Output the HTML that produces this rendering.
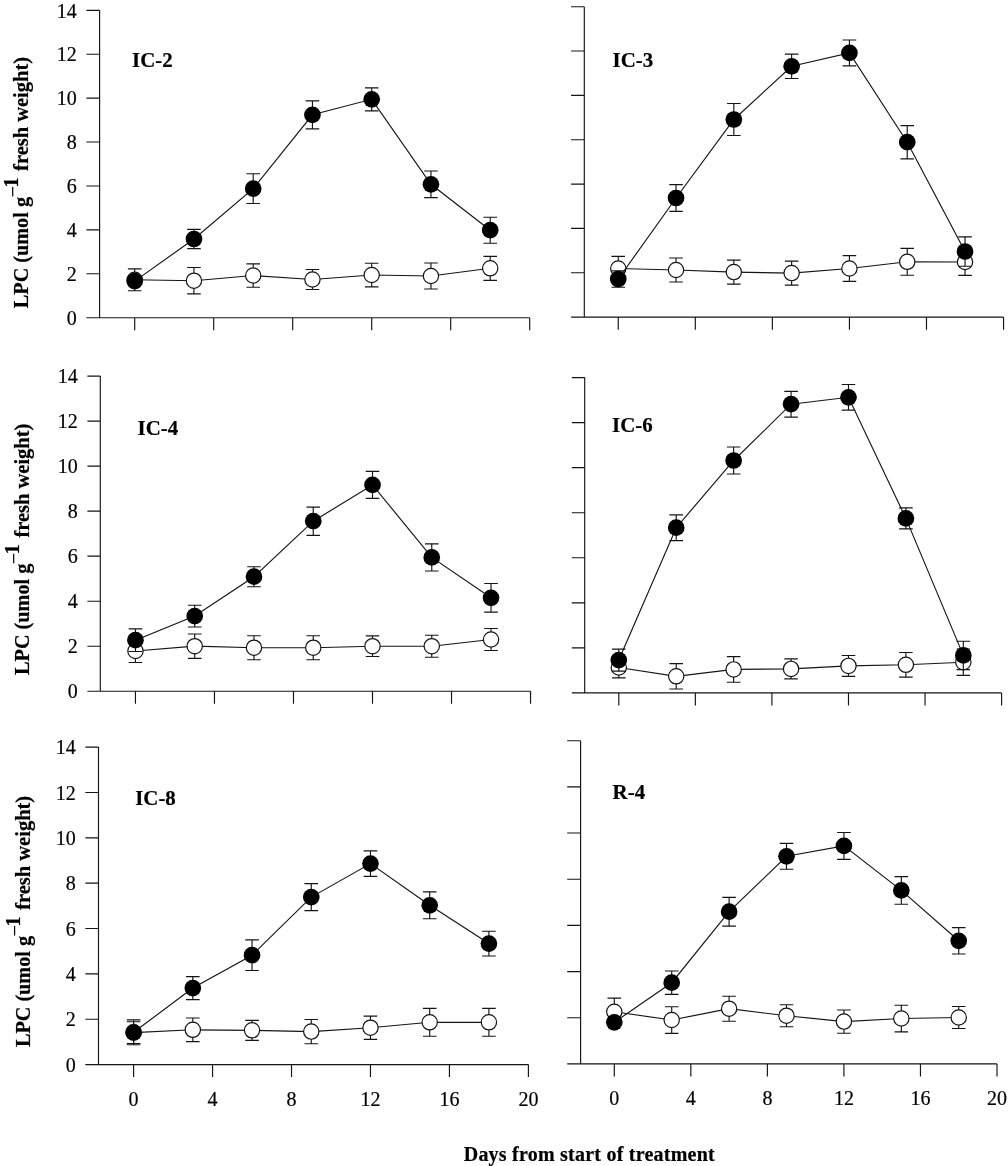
<!DOCTYPE html>
<html><head><meta charset="utf-8"><title>LPC chart</title>
<style>
html,body{margin:0;padding:0;background:#fff;}
body{width:1008px;height:1166px;overflow:hidden;font-family:"Liberation Serif",serif;}
svg{display:block;will-change:transform;}
</style></head><body>
<svg width="1008" height="1166" viewBox="0 0 1008 1166">
<rect width="1008" height="1166" fill="#fff"/>
<g fill="none" stroke="#141414" stroke-width="1.15">
<path d="M99.6 10.3V317.7M86.4 317.7H529.7M86.4 273.79H99.6M86.4 229.87H99.6M86.4 185.96H99.6M86.4 142.04H99.6M86.4 98.13H99.6M86.4 54.21H99.6M86.4 10.3H99.6M134.7 317.7V330.3M213.7 317.7V330.3M292.7 317.7V330.3M371.7 317.7V330.3M450.7 317.7V330.3M529.7 317.7V330.3"/>
<path d="M584.3 6.7V317.1M571.1 317.1H1003.4M571.1 272.76H584.3M571.1 228.41H584.3M571.1 184.07H584.3M571.1 139.73H584.3M571.1 95.39H584.3M571.1 51.04H584.3M571.1 6.7H584.3M618.25 317.1V329.8M695.31 317.1V329.8M772.37 317.1V329.8M849.43 317.1V329.8M926.49 317.1V329.8M1003.55 317.1V329.8"/>
<path d="M100.3 376.1V691.25M87.4 691.25H530.6M87.4 646.23H100.3M87.4 601.21H100.3M87.4 556.19H100.3M87.4 511.16H100.3M87.4 466.14H100.3M87.4 421.12H100.3M87.4 376.1H100.3M135.45 691.25V703.75M214.47 691.25V703.75M293.49 691.25V703.75M372.51 691.25V703.75M451.53 691.25V703.75M530.55 691.25V703.75"/>
<path d="M584.7 377.6V692.9M571.8 692.9H1001.6M571.8 647.86H584.7M571.8 602.81H584.7M571.8 557.77H584.7M571.8 512.73H584.7M571.8 467.69H584.7M571.8 422.64H584.7M571.8 377.6H584.7M618.8 692.9V705.4M695.36 692.9V705.4M771.92 692.9V705.4M848.48 692.9V705.4M925.04 692.9V705.4M1001.6 692.9V705.4"/>
<path d="M98.5 747.1V1064.6M85.4 1064.6H528.4M85.4 1019.24H98.5M85.4 973.89H98.5M85.4 928.53H98.5M85.4 883.17H98.5M85.4 837.81H98.5M85.4 792.46H98.5M85.4 747.1H98.5M133.6 1064.6V1077.1M212.56 1064.6V1077.1M291.52 1064.6V1077.1M370.48 1064.6V1077.1M449.44 1064.6V1077.1M528.4 1064.6V1077.1"/>
<path d="M580.6 740.7V1063.9M567.2 1063.9H997.1M567.2 1017.73H580.6M567.2 971.56H580.6M567.2 925.39H580.6M567.2 879.21H580.6M567.2 833.04H580.6M567.2 786.87H580.6M567.2 740.7H580.6M614.3 1063.9V1076.4M690.84 1063.9V1076.4M767.38 1063.9V1076.4M843.92 1063.9V1076.4M920.46 1063.9V1076.4M997 1063.9V1076.4"/>
</g>
<g stroke="#141414" stroke-width="1.15" fill="none"><path d="M134.7 279.8L193.95 280.7L253.2 275.5L312.45 279.5L371.7 275L430.95 276L490.2 268.3"/><path d="M134.7 268.9V290.7M127.9 268.9H141.5M127.9 290.7H141.5M193.95 267.5V293.9M187.15 267.5H200.75M187.15 293.9H200.75M253.2 263.8V287.2M246.4 263.8H260M246.4 287.2H260M312.45 269.5V289.5M305.65 269.5H319.25M305.65 289.5H319.25M371.7 263.2V286.8M364.9 263.2H378.5M364.9 286.8H378.5M430.95 263V289M424.15 263H437.75M424.15 289H437.75M490.2 256.3V280.3M483.4 256.3H497M483.4 280.3H497"/></g>
<g fill="#fff" stroke="#141414" stroke-width="1.2">
<circle cx="134.7" cy="279.8" r="7.65"/>
<circle cx="193.95" cy="280.7" r="7.65"/>
<circle cx="253.2" cy="275.5" r="7.65"/>
<circle cx="312.45" cy="279.5" r="7.65"/>
<circle cx="371.7" cy="275" r="7.65"/>
<circle cx="430.95" cy="276" r="7.65"/>
<circle cx="490.2" cy="268.3" r="7.65"/>
</g>
<g stroke="#141414" stroke-width="1.15" fill="none"><path d="M134.7 281.1L193.95 239L253.2 188.6L312.45 114.8L371.7 99.3L430.95 184.3L490.2 230.2"/><path d="M193.95 229.4V248.6M187.15 229.4H200.75M187.15 248.6H200.75M253.2 173.7V203.5M246.4 173.7H260M246.4 203.5H260M312.45 100.8V128.8M305.65 100.8H319.25M305.65 128.8H319.25M371.7 87.8V110.8M364.9 87.8H378.5M364.9 110.8H378.5M430.95 171V197.6M424.15 171H437.75M424.15 197.6H437.75M490.2 217.2V243.2M483.4 217.2H497M483.4 243.2H497"/></g>
<g fill="#000">
<circle cx="134.7" cy="281.1" r="8.35"/>
<circle cx="193.95" cy="239" r="8.35"/>
<circle cx="253.2" cy="188.6" r="8.35"/>
<circle cx="312.45" cy="114.8" r="8.35"/>
<circle cx="371.7" cy="99.3" r="8.35"/>
<circle cx="430.95" cy="184.3" r="8.35"/>
<circle cx="490.2" cy="230.2" r="8.35"/>
</g>
<g stroke="#141414" stroke-width="1.15" fill="none"><path d="M618.25 268.5L676.04 270L733.84 272.1L791.63 273.1L849.43 268.5L907.23 261.8L965.02 262"/><path d="M618.25 256.3V280.7M611.45 256.3H625.05M611.45 280.7H625.05M676.04 258V282M669.25 258H682.84M669.25 282H682.84M733.84 260.1V284.1M727.04 260.1H740.64M727.04 284.1H740.64M791.63 261.1V285.1M784.84 261.1H798.43M784.84 285.1H798.43M849.43 255.6V281.4M842.63 255.6H856.23M842.63 281.4H856.23M907.23 248.4V275.2M900.43 248.4H914.02M900.43 275.2H914.02M965.02 248.6V275.4M958.22 248.6H971.82M958.22 275.4H971.82"/></g>
<g fill="#fff" stroke="#141414" stroke-width="1.2">
<circle cx="618.25" cy="268.5" r="7.65"/>
<circle cx="676.04" cy="270" r="7.65"/>
<circle cx="733.84" cy="272.1" r="7.65"/>
<circle cx="791.63" cy="273.1" r="7.65"/>
<circle cx="849.43" cy="268.5" r="7.65"/>
<circle cx="907.23" cy="261.8" r="7.65"/>
<circle cx="965.02" cy="262" r="7.65"/>
</g>
<g stroke="#141414" stroke-width="1.15" fill="none"><path d="M618.25 279L676.04 198L733.84 119.5L791.63 66.3L849.43 52.9L907.23 142.2L965.02 251.5"/><path d="M618.25 270.8V287.2M611.45 270.8H625.05M611.45 287.2H625.05M676.04 184.6V211.4M669.25 184.6H682.84M669.25 211.4H682.84M733.84 103.5V135.5M727.04 103.5H740.64M727.04 135.5H740.64M791.63 54.1V78.5M784.84 54.1H798.43M784.84 78.5H798.43M849.43 40V65.8M842.63 40H856.23M842.63 65.8H856.23M907.23 125.6V158.8M900.43 125.6H914.02M900.43 158.8H914.02M965.02 236.8V266.2M958.22 236.8H971.82M958.22 266.2H971.82"/></g>
<g fill="#000">
<circle cx="618.25" cy="279" r="8.35"/>
<circle cx="676.04" cy="198" r="8.35"/>
<circle cx="733.84" cy="119.5" r="8.35"/>
<circle cx="791.63" cy="66.3" r="8.35"/>
<circle cx="849.43" cy="52.9" r="8.35"/>
<circle cx="907.23" cy="142.2" r="8.35"/>
<circle cx="965.02" cy="251.5" r="8.35"/>
</g>
<g stroke="#141414" stroke-width="1.15" fill="none"><path d="M135.45 651L194.71 646.2L253.98 647.7L313.25 647.7L372.51 646.2L431.77 646.2L491.04 639.5"/><path d="M135.45 639.5V662.5M128.65 639.5H142.25M128.65 662.5H142.25M194.71 634V658.4M187.91 634H201.51M187.91 658.4H201.51M253.98 635.7V659.7M247.18 635.7H260.78M247.18 659.7H260.78M313.25 635.7V659.7M306.44 635.7H320.05M306.44 659.7H320.05M372.51 635.9V656.5M365.71 635.9H379.31M365.71 656.5H379.31M431.77 635.2V657.2M424.97 635.2H438.57M424.97 657.2H438.57M491.04 628.5V650.5M484.24 628.5H497.84M484.24 650.5H497.84"/></g>
<g fill="#fff" stroke="#141414" stroke-width="1.2">
<circle cx="135.45" cy="651" r="7.65"/>
<circle cx="194.71" cy="646.2" r="7.65"/>
<circle cx="253.98" cy="647.7" r="7.65"/>
<circle cx="313.25" cy="647.7" r="7.65"/>
<circle cx="372.51" cy="646.2" r="7.65"/>
<circle cx="431.77" cy="646.2" r="7.65"/>
<circle cx="491.04" cy="639.5" r="7.65"/>
</g>
<g stroke="#141414" stroke-width="1.15" fill="none"><path d="M135.45 640.2L194.71 616.1L253.98 576.7L313.25 521.2L372.51 484.9L431.77 557.4L491.04 597.8"/><path d="M135.45 628.9V651.5M128.65 628.9H142.25M128.65 651.5H142.25M194.71 605.2V627M187.91 605.2H201.51M187.91 627H201.51M253.98 566.7V586.7M247.18 566.7H260.78M247.18 586.7H260.78M313.25 507.1V535.3M306.44 507.1H320.05M306.44 535.3H320.05M372.51 471.4V498.4M365.71 471.4H379.31M365.71 498.4H379.31M431.77 543.8V571M424.97 543.8H438.57M424.97 571H438.57M491.04 583.5V612.1M484.24 583.5H497.84M484.24 612.1H497.84"/></g>
<g fill="#000">
<circle cx="135.45" cy="640.2" r="8.35"/>
<circle cx="194.71" cy="616.1" r="8.35"/>
<circle cx="253.98" cy="576.7" r="8.35"/>
<circle cx="313.25" cy="521.2" r="8.35"/>
<circle cx="372.51" cy="484.9" r="8.35"/>
<circle cx="431.77" cy="557.4" r="8.35"/>
<circle cx="491.04" cy="597.8" r="8.35"/>
</g>
<g stroke="#141414" stroke-width="1.15" fill="none"><path d="M618.8 667.5L676.22 676.3L733.64 669.4L791.06 668.9L848.48 665.9L905.9 664.8L963.32 662.2"/><path d="M618.8 657.2V677.8M612 657.2H625.6M612 677.8H625.6M676.22 663.6V689M669.42 663.6H683.02M669.42 689H683.02M733.64 656.6V682.2M726.84 656.6H740.44M726.84 682.2H740.44M791.06 658.9V678.9M784.26 658.9H797.86M784.26 678.9H797.86M848.48 655.5V676.3M841.68 655.5H855.28M841.68 676.3H855.28M905.9 652.5V677.1M899.1 652.5H912.7M899.1 677.1H912.7M963.32 649V675.4M956.52 649H970.12M956.52 675.4H970.12"/></g>
<g fill="#fff" stroke="#141414" stroke-width="1.2">
<circle cx="618.8" cy="667.5" r="7.65"/>
<circle cx="676.22" cy="676.3" r="7.65"/>
<circle cx="733.64" cy="669.4" r="7.65"/>
<circle cx="791.06" cy="668.9" r="7.65"/>
<circle cx="848.48" cy="665.9" r="7.65"/>
<circle cx="905.9" cy="664.8" r="7.65"/>
<circle cx="963.32" cy="662.2" r="7.65"/>
</g>
<g stroke="#141414" stroke-width="1.15" fill="none"><path d="M618.8 660.1L676.22 527.7L733.64 460.5L791.06 404.2L848.48 397.3L905.9 518.4L963.32 655.4"/><path d="M618.8 649.1V671.1M612 649.1H625.6M612 671.1H625.6M676.22 514.8V540.6M669.42 514.8H683.02M669.42 540.6H683.02M733.64 447V474M726.84 447H740.44M726.84 474H740.44M791.06 391.3V417.1M784.26 391.3H797.86M784.26 417.1H797.86M848.48 384.5V410.1M841.68 384.5H855.28M841.68 410.1H855.28M905.9 507.9V528.9M899.1 507.9H912.7M899.1 528.9H912.7M963.32 641.2V669.6M956.52 641.2H970.12M956.52 669.6H970.12"/></g>
<g fill="#000">
<circle cx="618.8" cy="660.1" r="8.35"/>
<circle cx="676.22" cy="527.7" r="8.35"/>
<circle cx="733.64" cy="460.5" r="8.35"/>
<circle cx="791.06" cy="404.2" r="8.35"/>
<circle cx="848.48" cy="397.3" r="8.35"/>
<circle cx="905.9" cy="518.4" r="8.35"/>
<circle cx="963.32" cy="655.4" r="8.35"/>
</g>
<g stroke="#141414" stroke-width="1.15" fill="none"><path d="M133.6 1032.6L192.82 1029.8L252.04 1030.3L311.26 1031.6L370.48 1027.7L429.7 1022.3L488.92 1022.3"/><path d="M133.6 1021.7V1043.5M126.8 1021.7H140.4M126.8 1043.5H140.4M192.82 1018V1041.6M186.02 1018H199.62M186.02 1041.6H199.62M252.04 1020.3V1040.3M245.24 1020.3H258.84M245.24 1040.3H258.84M311.26 1019.5V1043.7M304.46 1019.5H318.06M304.46 1043.7H318.06M370.48 1016.1V1039.3M363.68 1016.1H377.28M363.68 1039.3H377.28M429.7 1008.4V1036.2M422.9 1008.4H436.5M422.9 1036.2H436.5M488.92 1008.4V1036.2M482.12 1008.4H495.72M482.12 1036.2H495.72"/></g>
<g fill="#fff" stroke="#141414" stroke-width="1.2">
<circle cx="133.6" cy="1032.6" r="7.65"/>
<circle cx="192.82" cy="1029.8" r="7.65"/>
<circle cx="252.04" cy="1030.3" r="7.65"/>
<circle cx="311.26" cy="1031.6" r="7.65"/>
<circle cx="370.48" cy="1027.7" r="7.65"/>
<circle cx="429.7" cy="1022.3" r="7.65"/>
<circle cx="488.92" cy="1022.3" r="7.65"/>
</g>
<g stroke="#141414" stroke-width="1.15" fill="none"><path d="M133.6 1032.3L192.82 988.1L252.04 955.2L311.26 897.1L370.48 863.6L429.7 905.3L488.92 943.6"/><path d="M133.6 1019.9V1044.7M126.8 1019.9H140.4M126.8 1044.7H140.4M192.82 976.6V999.6M186.02 976.6H199.62M186.02 999.6H199.62M252.04 939.9V970.5M245.24 939.9H258.84M245.24 970.5H258.84M311.26 883.6V910.6M304.46 883.6H318.06M304.46 910.6H318.06M370.48 850.9V876.3M363.68 850.9H377.28M363.68 876.3H377.28M429.7 891.9V918.7M422.9 891.9H436.5M422.9 918.7H436.5M488.92 931.2V956M482.12 931.2H495.72M482.12 956H495.72"/></g>
<g fill="#000">
<circle cx="133.6" cy="1032.3" r="8.35"/>
<circle cx="192.82" cy="988.1" r="8.35"/>
<circle cx="252.04" cy="955.2" r="8.35"/>
<circle cx="311.26" cy="897.1" r="8.35"/>
<circle cx="370.48" cy="863.6" r="8.35"/>
<circle cx="429.7" cy="905.3" r="8.35"/>
<circle cx="488.92" cy="943.6" r="8.35"/>
</g>
<g stroke="#141414" stroke-width="1.15" fill="none"><path d="M614.3 1011.8L671.7 1020L729.11 1008.7L786.51 1015.7L843.92 1021.6L901.33 1018.5L958.73 1017.5"/><path d="M614.3 998.1V1025.5M607.5 998.1H621.1M607.5 1025.5H621.1M671.7 1006.7V1033.3M664.9 1006.7H678.5M664.9 1033.3H678.5M729.11 996.2V1021.2M722.31 996.2H735.91M722.31 1021.2H735.91M786.51 1004.7V1026.7M779.72 1004.7H793.31M779.72 1026.7H793.31M843.92 1010V1033.2M837.12 1010H850.72M837.12 1033.2H850.72M901.33 1005.2V1031.8M894.53 1005.2H908.12M894.53 1031.8H908.12M958.73 1006.5V1028.5M951.93 1006.5H965.53M951.93 1028.5H965.53"/></g>
<g fill="#fff" stroke="#141414" stroke-width="1.2">
<circle cx="614.3" cy="1011.8" r="7.65"/>
<circle cx="671.7" cy="1020" r="7.65"/>
<circle cx="729.11" cy="1008.7" r="7.65"/>
<circle cx="786.51" cy="1015.7" r="7.65"/>
<circle cx="843.92" cy="1021.6" r="7.65"/>
<circle cx="901.33" cy="1018.5" r="7.65"/>
<circle cx="958.73" cy="1017.5" r="7.65"/>
</g>
<g stroke="#141414" stroke-width="1.15" fill="none"><path d="M614.3 1022.3L671.7 982.7L729.11 911.7L786.51 856.3L843.92 845.9L901.33 890.4L958.73 940.8"/><path d="M671.7 971V994.4M664.9 971H678.5M664.9 994.4H678.5M729.11 897.3V926.1M722.31 897.3H735.91M722.31 926.1H735.91M786.51 843.4V869.2M779.72 843.4H793.31M779.72 869.2H793.31M843.92 832.5V859.3M837.12 832.5H850.72M837.12 859.3H850.72M901.33 876.6V904.2M894.53 876.6H908.12M894.53 904.2H908.12M958.73 927.6V954M951.93 927.6H965.53M951.93 954H965.53"/></g>
<g fill="#000">
<circle cx="614.3" cy="1022.3" r="8.35"/>
<circle cx="671.7" cy="982.7" r="8.35"/>
<circle cx="729.11" cy="911.7" r="8.35"/>
<circle cx="786.51" cy="856.3" r="8.35"/>
<circle cx="843.92" cy="845.9" r="8.35"/>
<circle cx="901.33" cy="890.4" r="8.35"/>
<circle cx="958.73" cy="940.8" r="8.35"/>
</g>
<g font-family="'Liberation Serif', serif" font-size="20" fill="#000" stroke="#000" stroke-width="0.2">
<text x="76.7" y="324.9" text-anchor="end">0</text>
<text x="76.7" y="280.99" text-anchor="end">2</text>
<text x="76.7" y="237.07" text-anchor="end">4</text>
<text x="76.7" y="193.16" text-anchor="end">6</text>
<text x="76.7" y="149.24" text-anchor="end">8</text>
<text x="76.7" y="105.33" text-anchor="end">10</text>
<text x="76.7" y="61.41" text-anchor="end">12</text>
<text x="76.7" y="17.5" text-anchor="end">14</text>
<text transform="translate(132 66.7) scale(1.045 1)" font-weight="bold">IC-2</text>
<text transform="translate(612.6 67.4) scale(1.045 1)" font-weight="bold">IC-3</text>
<text x="77.7" y="698.45" text-anchor="end">0</text>
<text x="77.7" y="653.43" text-anchor="end">2</text>
<text x="77.7" y="608.41" text-anchor="end">4</text>
<text x="77.7" y="563.39" text-anchor="end">6</text>
<text x="77.7" y="518.36" text-anchor="end">8</text>
<text x="77.7" y="473.34" text-anchor="end">10</text>
<text x="77.7" y="428.32" text-anchor="end">12</text>
<text x="77.7" y="383.3" text-anchor="end">14</text>
<text transform="translate(137.6 434.7) scale(1.045 1)" font-weight="bold">IC-4</text>
<text transform="translate(612.1 432.2) scale(1.045 1)" font-weight="bold">IC-6</text>
<text x="75.7" y="1071.8" text-anchor="end">0</text>
<text x="75.7" y="1026.44" text-anchor="end">2</text>
<text x="75.7" y="981.09" text-anchor="end">4</text>
<text x="75.7" y="935.73" text-anchor="end">6</text>
<text x="75.7" y="890.37" text-anchor="end">8</text>
<text x="75.7" y="845.01" text-anchor="end">10</text>
<text x="75.7" y="799.66" text-anchor="end">12</text>
<text x="75.7" y="754.3" text-anchor="end">14</text>
<text x="133.6" y="1105.8" text-anchor="middle">0</text>
<text x="212.56" y="1105.8" text-anchor="middle">4</text>
<text x="291.52" y="1105.8" text-anchor="middle">8</text>
<text x="370.48" y="1105.8" text-anchor="middle">12</text>
<text x="449.44" y="1105.8" text-anchor="middle">16</text>
<text x="528.4" y="1105.8" text-anchor="middle">20</text>
<text transform="translate(135.2 805) scale(1.045 1)" font-weight="bold">IC-8</text>
<text x="614.3" y="1105.1" text-anchor="middle">0</text>
<text x="690.84" y="1105.1" text-anchor="middle">4</text>
<text x="767.38" y="1105.1" text-anchor="middle">8</text>
<text x="843.92" y="1105.1" text-anchor="middle">12</text>
<text x="920.46" y="1105.1" text-anchor="middle">16</text>
<text x="997" y="1105.1" text-anchor="middle">20</text>
<text transform="translate(612.6 799.4) scale(1.045 1)" font-weight="bold">R-4</text>
<g transform="translate(28.1 308.2) rotate(-90)" font-weight="bold">
<text x="0" y="0" textLength="111.2" lengthAdjust="spacingAndGlyphs">LPC (umol g</text>
<path d="M111.6 -15.4H121.2" stroke="#000" stroke-width="1.2" fill="none"/>
<text x="120.6" y="-10">1</text>
<text x="137.3" y="0" textLength="114" lengthAdjust="spacingAndGlyphs">fresh weight)</text>
</g>
<g transform="translate(29.1 674.9) rotate(-90)" font-weight="bold">
<text x="0" y="0" textLength="111.2" lengthAdjust="spacingAndGlyphs">LPC (umol g</text>
<path d="M111.6 -15.4H121.2" stroke="#000" stroke-width="1.2" fill="none"/>
<text x="120.6" y="-10">1</text>
<text x="137.3" y="0" textLength="114" lengthAdjust="spacingAndGlyphs">fresh weight)</text>
</g>
<g transform="translate(30 1047.1) rotate(-90)" font-weight="bold">
<text x="0" y="0" textLength="111.2" lengthAdjust="spacingAndGlyphs">LPC (umol g</text>
<path d="M111.6 -15.4H121.2" stroke="#000" stroke-width="1.2" fill="none"/>
<text x="120.6" y="-10">1</text>
<text x="137.3" y="0" textLength="114" lengthAdjust="spacingAndGlyphs">fresh weight)</text>
</g>
<text x="463.7" y="1161.2" font-weight="bold" textLength="251" lengthAdjust="spacing">Days from start of treatment</text>
</g>
</svg>
</body></html>
